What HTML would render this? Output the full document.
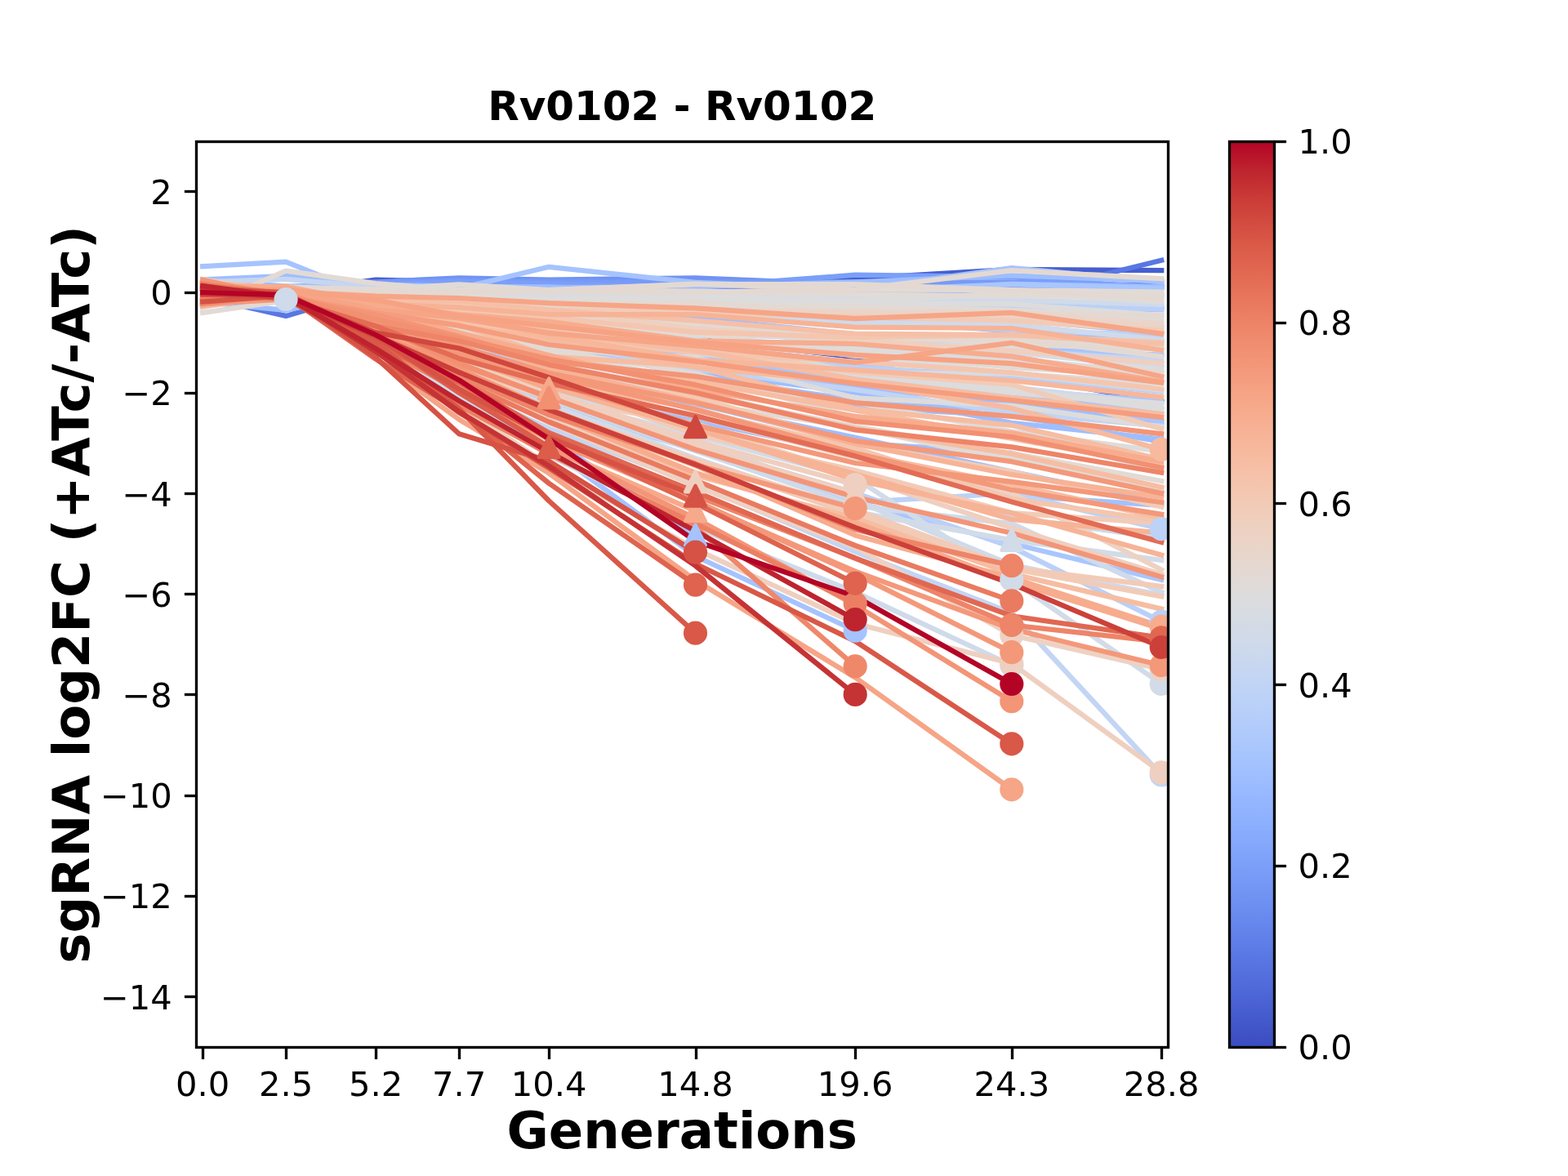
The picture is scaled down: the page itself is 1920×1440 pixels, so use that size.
<!DOCTYPE html>
<html lang="en">
<head>
<meta charset="utf-8">
<title>Rv0102 - Rv0102</title>
<style>
html,body{margin:0;padding:0;background:#fff;}
body{width:1920px;height:1440px;overflow:hidden;}
svg{display:block;}
text{font-family:"DejaVu Sans","Liberation Sans",sans-serif;fill:#000;}
.t{font-size:41.67px;}
.b{font-weight:bold;}
.ln path{fill:none;stroke-width:6.25;stroke-linejoin:round;stroke-linecap:square;}
.mk circle,.mk path{stroke-width:4.17;stroke-linejoin:round;}
.tk line{stroke:#000;stroke-width:3.33;}
</style>
</head>
<body>
<svg width="1920" height="1440" viewBox="0 0 1920 1440">
<rect x="0" y="0" width="1920" height="1440" fill="#fff"/>
<defs>
<linearGradient id="cw" x1="0" y1="1" x2="0" y2="0">
<stop offset="0.0000" stop-color="#3b4cc0"/><stop offset="0.0312" stop-color="#445acc"/><stop offset="0.0625" stop-color="#4e68d8"/><stop offset="0.0938" stop-color="#5875e1"/><stop offset="0.1250" stop-color="#6282ea"/><stop offset="0.1562" stop-color="#6c8ff1"/><stop offset="0.1875" stop-color="#779af7"/><stop offset="0.2188" stop-color="#82a6fb"/><stop offset="0.2500" stop-color="#8db0fe"/><stop offset="0.2812" stop-color="#98b9ff"/><stop offset="0.3125" stop-color="#a3c2fe"/><stop offset="0.3438" stop-color="#aec9fc"/><stop offset="0.3750" stop-color="#b9d0f9"/><stop offset="0.4062" stop-color="#c3d5f4"/><stop offset="0.4375" stop-color="#ccd9ed"/><stop offset="0.4688" stop-color="#d5dbe5"/><stop offset="0.5000" stop-color="#dddcdc"/><stop offset="0.5312" stop-color="#e5d8d1"/><stop offset="0.5625" stop-color="#ecd3c5"/><stop offset="0.5938" stop-color="#f1ccb8"/><stop offset="0.6250" stop-color="#f5c4ac"/><stop offset="0.6562" stop-color="#f7ba9f"/><stop offset="0.6875" stop-color="#f7b093"/><stop offset="0.7188" stop-color="#f6a586"/><stop offset="0.7500" stop-color="#f4987a"/><stop offset="0.7812" stop-color="#f08b6e"/><stop offset="0.8125" stop-color="#eb7d62"/><stop offset="0.8438" stop-color="#e46e56"/><stop offset="0.8750" stop-color="#dd5f4b"/><stop offset="0.9062" stop-color="#d44e41"/><stop offset="0.9375" stop-color="#ca3b37"/><stop offset="0.9688" stop-color="#be242e"/><stop offset="1.0000" stop-color="#b40426"/>
</linearGradient>
<clipPath id="axclip"><rect x="240.0" y="172.8" width="1190.4" height="1108.8"/></clipPath>
</defs>
<g clip-path="url(#axclip)">
<g class="ln">
<path d="M248.2 354.6L350.1 352.8L460.1 368.6L562.1 382.9L672.1 397.5L851.5 415.1L1047.2 437.2L1238.8 459.2L1422.2 491.9" stroke="#4055c8"/>
<path d="M248.2 357.6L350.1 357.6L460.1 342.5L562.1 345.3L672.1 345.3L851.5 348.4L1047.2 341.0L1238.8 329.9L1422.2 331.1" stroke="#465ecf"/>
<path d="M248.2 363.8L350.1 386.9L460.1 354.5L562.1 351.4L672.1 351.4L851.5 354.5L1047.2 351.4L1238.8 363.8L1422.2 318.8" stroke="#5977e3"/>
<path d="M248.2 354.5L350.1 351.4L460.1 345.3L562.1 340.4L672.1 342.5L851.5 340.4L1047.2 348.4L1238.8 351.4L1422.2 347.7" stroke="#7093f3"/>
<path d="M248.2 357.6L350.1 354.5L460.1 346.5L562.1 343.4L672.1 345.3L851.5 345.3L1047.2 345.3L1238.8 345.3L1422.2 351.4" stroke="#779af7"/>
<path d="M248.2 357.6L350.1 354.5L460.1 348.4L562.1 345.3L672.1 347.7L851.5 351.4L1047.2 336.7L1238.8 339.1L1422.2 352.7" stroke="#7b9ff9"/>
<path d="M248.2 368.8L350.1 364.5L460.1 363.4L562.1 366.1L672.1 355.0L851.5 362.8L1047.2 360.8L1238.8 360.7L1422.2 361.9" stroke="#8db0fe"/>
<path d="M248.2 342.5L350.1 337.9L460.1 349.0L562.1 351.4L672.1 351.4L851.5 357.6L1047.2 360.7L1238.8 347.7L1422.2 351.4" stroke="#9ebeff"/>
<path d="M248.2 369.9L350.1 379.8L460.1 357.6L562.1 360.7L672.1 363.8L851.5 369.9L1047.2 373.0L1238.8 374.8L1422.2 379.2" stroke="#9ebeff"/>
<path d="M248.2 369.7L350.1 355.0L460.1 383.5L562.1 404.0L672.1 420.3L851.5 460.8L1047.2 490.0L1238.8 502.4L1422.2 516.2" stroke="#9ebeff"/>
<path d="M248.2 363.8L350.1 350.9L460.1 383.2L562.1 398.7L672.1 419.1L851.5 455.4L1047.2 480.7L1238.8 517.8L1422.2 537.5" stroke="#9ebeff"/>
<path d="M248.2 353.3L350.1 350.2L460.1 385.6L562.1 420.1L672.1 446.1L851.5 493.7L1047.2 542.4L1238.8 554.7L1422.2 602.8" stroke="#9ebeff"/>
<path d="M248.2 371.8L350.1 360.6L460.1 393.4L562.1 424.7L672.1 455.0L851.5 494.6L1047.2 535.8L1238.8 577.5L1422.2 616.3" stroke="#9ebeff"/>
<path d="M248.2 356.7L350.1 364.6L460.1 367.9L562.1 370.2L672.1 385.1L851.5 381.6L1047.2 386.9L1238.8 387.7L1422.2 400.6" stroke="#9ebeff"/>
<path d="M248.2 342.3L350.1 350.7L460.1 357.8L562.1 360.6L672.1 369.4L851.5 378.4L1047.2 394.3L1238.8 391.4L1422.2 407.4" stroke="#9ebeff"/>
<path d="M248.2 346.2L350.1 351.2L460.1 358.9L562.1 359.7L672.1 376.5L851.5 390.0L1047.2 390.2L1238.8 405.6L1422.2 418.2" stroke="#9ebeff"/>
<path d="M248.2 374.5L350.1 359.3L460.1 372.6L562.1 375.2L672.1 387.4L851.5 389.7L1047.2 409.3L1238.8 426.0L1422.2 434.8" stroke="#9ebeff"/>
<path d="M248.2 364.9L350.1 355.9L460.1 377.7L562.1 395.1L672.1 416.2L851.5 441.7L1047.2 474.6L1238.8 493.2L1422.2 519.5" stroke="#9ebeff"/>
<path d="M248.2 374.4L350.1 363.7L460.1 389.4L562.1 396.8L672.1 423.6L851.5 456.2L1047.2 498.3L1238.8 509.0L1422.2 541.0" stroke="#9ebeff"/>
<path d="M248.2 357.8L350.1 350.6L460.1 348.5L562.1 350.6L672.1 352.1L851.5 351.4L1047.2 345.3L1238.8 337.3L1422.2 344.0" stroke="#9ebeff"/>
<path d="M248.2 347.6L350.1 363.1L460.1 396.9L562.1 430.3L672.1 466.9L851.5 515.1L1047.2 555.5L1238.8 606.5L1422.2 618.8" stroke="#a2c1ff"/>
<path d="M248.2 326.2L350.1 320.6L460.1 365.0L562.1 353.3L672.1 326.8L851.5 345.9L1047.2 354.5L1238.8 328.0L1422.2 345.3" stroke="#a5c3fe"/>
<path d="M248.2 362.8L350.1 358.3L460.1 419.0L562.1 483.8L672.1 536.2L851.5 655.1" stroke="#a5c3fe"/>
<path d="M248.2 347.6L350.1 359.7L460.1 417.4L562.1 483.3L672.1 548.6L851.5 681.0L1047.2 772.2" stroke="#a5c3fe"/>
<path d="M248.2 351.3L350.1 358.8L460.1 377.7L562.1 399.9L672.1 410.3L851.5 437.2L1047.2 463.6L1238.8 476.5L1422.2 501.1" stroke="#a9c6fd"/>
<path d="M248.2 353.3L350.1 363.8L460.1 384.3L562.1 399.1L672.1 415.4L851.5 434.6L1047.2 460.5L1238.8 482.6L1422.2 506.1" stroke="#a9c6fd"/>
<path d="M248.2 374.2L350.1 361.3L460.1 410.6L562.1 449.3L672.1 491.9L851.5 551.8L1047.2 615.1L1238.8 665.6L1422.2 710.0" stroke="#a9c6fd"/>
<path d="M248.2 358.3L350.1 357.2L460.1 358.2L562.1 359.1L672.1 356.2L851.5 357.7L1047.2 355.8L1238.8 348.1L1422.2 353.4" stroke="#a9c6fd"/>
<path d="M248.2 353.7L350.1 364.6L460.1 363.6L562.1 370.8L672.1 372.3L851.5 368.3L1047.2 377.0L1238.8 369.4L1422.2 376.7" stroke="#a9c6fd"/>
<path d="M248.2 355.4L350.1 350.8L460.1 359.6L562.1 368.7L672.1 391.5L851.5 393.9L1047.2 413.0L1238.8 428.7L1422.2 435.3" stroke="#a9c6fd"/>
<path d="M248.2 354.1L350.1 355.7L460.1 378.5L562.1 390.0L672.1 408.6L851.5 422.7L1047.2 444.0L1238.8 478.0L1422.2 490.3" stroke="#a9c6fd"/>
<path d="M248.2 344.8L350.1 359.4L460.1 385.0L562.1 397.2L672.1 411.7L851.5 429.6L1047.2 469.0L1238.8 481.1L1422.2 515.5" stroke="#a9c6fd"/>
<path d="M248.2 360.4L350.1 363.3L460.1 364.7L562.1 362.7L672.1 363.0L851.5 363.8L1047.2 369.9L1238.8 369.9L1422.2 376.1" stroke="#afcafc"/>
<path d="M248.2 345.3L350.1 364.7L460.1 381.6L562.1 386.0L672.1 391.3L851.5 408.9L1047.2 414.8L1238.8 431.5L1422.2 445.1" stroke="#afcafc"/>
<path d="M248.2 365.9L350.1 363.5L460.1 362.7L562.1 368.0L672.1 369.1L851.5 374.8L1047.2 375.0L1238.8 374.8L1422.2 378.5" stroke="#bad0f8"/>
<path d="M248.2 371.9L350.1 351.8L460.1 400.4L562.1 443.5L672.1 485.5L851.5 545.7L1047.2 603.8L1238.8 669.9L1422.2 761.1" stroke="#bad0f8"/>
<path d="M248.2 358.1L350.1 352.4L460.1 360.5L562.1 369.6L672.1 376.8L851.5 379.2L1047.2 393.8L1238.8 404.0L1422.2 410.5" stroke="#bad0f8"/>
<path d="M248.2 359.9L350.1 361.9L460.1 381.9L562.1 387.7L672.1 409.4L851.5 422.8L1047.2 450.1L1238.8 460.8L1422.2 479.9" stroke="#bad0f8"/>
<path d="M248.2 359.2L350.1 356.5L460.1 373.1L562.1 384.5L672.1 389.3L851.5 408.6L1047.2 412.7L1238.8 429.2L1422.2 450.2" stroke="#bad0f8"/>
<path d="M248.2 355.8L350.1 364.4L460.1 408.4L562.1 441.8L672.1 500.0L851.5 550.2L1047.2 615.1L1238.8 604.0L1422.2 647.7" stroke="#bcd2f7"/>
<path d="M248.2 356.9L350.1 360.5L460.1 384.8L562.1 399.5L672.1 420.1L851.5 451.8L1047.2 477.2L1238.8 505.4L1422.2 521.5" stroke="#c0d4f5"/>
<path d="M248.2 375.0L350.1 359.7L460.1 418.1L562.1 473.7L672.1 524.8L851.5 592.5L1047.2 675.6L1238.8 750.6L1422.2 949.0" stroke="#c3d5f4"/>
<path d="M248.2 345.3L350.1 341.9L460.1 351.4L562.1 357.6L672.1 360.7L851.5 360.7L1047.2 365.0L1238.8 367.5L1422.2 373.0" stroke="#c6d6f1"/>
<path d="M248.2 365.9L350.1 356.7L460.1 367.9L562.1 384.5L672.1 398.1L851.5 402.4L1047.2 420.6L1238.8 428.8L1422.2 441.3" stroke="#c6d6f1"/>
<path d="M248.2 354.5L350.1 366.5" stroke="#cfdaea"/>
<path d="M248.2 367.9L350.1 357.4L460.1 356.5L562.1 359.8L672.1 358.2L851.5 364.1L1047.2 368.6L1238.8 367.5L1422.2 372.4" stroke="#cfdaea"/>
<path d="M248.2 360.7L350.1 357.8L460.1 361.9L562.1 369.6L672.1 368.1L851.5 382.2L1047.2 394.6L1238.8 397.6L1422.2 416.1" stroke="#cfdaea"/>
<path d="M248.2 359.9L350.1 357.0L460.1 417.6L562.1 485.7L672.1 557.6L851.5 645.6L1047.2 725.2L1238.8 814.7" stroke="#cfdaea"/>
<path d="M248.2 363.1L350.1 351.5L460.1 375.0L562.1 384.0L672.1 398.1L851.5 423.1L1047.2 463.1L1238.8 474.0L1422.2 494.9" stroke="#cfdaea"/>
<path d="M248.2 370.0L350.1 364.3L460.1 402.0L562.1 436.7L672.1 477.4L851.5 523.5L1047.2 583.1L1238.8 633.5L1422.2 658.4" stroke="#cfdaea"/>
<path d="M248.2 369.4L350.1 364.6L460.1 405.2L562.1 443.7L672.1 488.9L851.5 551.8L1047.2 619.4L1238.8 641.2L1422.2 725.0" stroke="#cfdaea"/>
<path d="M248.2 350.6L350.1 363.0L460.1 401.5L562.1 447.6L672.1 488.3L851.5 538.3L1047.2 612.5L1238.8 691.8L1422.2 728.7" stroke="#cfdaea"/>
<path d="M248.2 364.1L350.1 363.3L460.1 411.1L562.1 459.6L672.1 495.5L851.5 561.1L1047.2 626.8L1238.8 661.3L1422.2 685.9" stroke="#d2dbe8"/>
<path d="M248.2 376.0L350.1 360.2L460.1 400.0L562.1 440.7L672.1 486.7L851.5 533.6L1047.2 585.5L1238.8 710.0L1422.2 837.5" stroke="#d2dbe8"/>
<path d="M248.2 363.0L350.1 356.6L460.1 373.6L562.1 387.3L672.1 401.6L851.5 419.2L1047.2 425.4L1238.8 431.5L1422.2 450.0" stroke="#d5dbe5"/>
<path d="M248.2 346.0L350.1 353.7L460.1 377.3L562.1 390.4L672.1 404.7L851.5 430.4L1047.2 459.7L1238.8 480.8L1422.2 496.2" stroke="#d7dce3"/>
<path d="M248.2 346.1L350.1 364.5L460.1 370.2L562.1 365.6L672.1 363.6L851.5 362.7L1047.2 363.7L1238.8 362.7L1422.2 359.4" stroke="#d7dce3"/>
<path d="M248.2 347.3L350.1 357.1L460.1 373.2L562.1 384.6L672.1 408.5L851.5 414.3L1047.2 456.5L1238.8 457.5L1422.2 477.7" stroke="#d7dce3"/>
<path d="M248.2 362.8L350.1 359.6L460.1 363.6L562.1 360.7L672.1 367.3L851.5 370.4L1047.2 371.8L1238.8 372.4L1422.2 386.2" stroke="#dddcdc"/>
<path d="M248.2 354.6L350.1 357.8L460.1 361.2L562.1 363.3L672.1 367.9L851.5 369.3L1047.2 375.0L1238.8 379.8L1422.2 393.9" stroke="#dddcdc"/>
<path d="M248.2 362.8L350.1 358.2L460.1 371.0L562.1 379.7L672.1 384.3L851.5 401.8L1047.2 419.2L1238.8 426.0L1422.2 454.9" stroke="#dddcdc"/>
<path d="M248.2 358.6L350.1 357.4L460.1 358.9L562.1 364.9L672.1 367.4L851.5 362.9L1047.2 369.7L1238.8 358.6L1422.2 369.7" stroke="#dddcdc"/>
<path d="M248.2 372.9L350.1 362.0L460.1 380.2L562.1 386.4L672.1 398.6L851.5 420.0L1047.2 434.8L1238.8 457.2L1422.2 469.9" stroke="#dddcdc"/>
<path d="M248.2 352.4L350.1 353.8L460.1 380.6L562.1 390.1L672.1 409.2L851.5 431.8L1047.2 455.1L1238.8 480.1L1422.2 493.9" stroke="#dddcdc"/>
<path d="M248.2 356.0L350.1 351.4L460.1 380.5L562.1 384.5L672.1 406.6L851.5 429.0L1047.2 455.7L1238.8 476.7L1422.2 501.0" stroke="#dddcdc"/>
<path d="M248.2 358.2L350.1 351.0L460.1 361.8L562.1 371.4L672.1 407.1L851.5 409.4L1047.2 431.2L1238.8 443.9L1422.2 463.1" stroke="#dddcdc"/>
<path d="M248.2 365.0L350.1 362.2L460.1 394.1L562.1 401.5L672.1 427.5L851.5 437.5L1047.2 487.3L1238.8 496.8L1422.2 522.9" stroke="#dddcdc"/>
<path d="M248.2 343.6L350.1 364.1L460.1 396.4L562.1 422.0L672.1 429.9L851.5 467.2L1047.2 492.6L1238.8 528.3L1422.2 552.7" stroke="#dddcdc"/>
<path d="M248.2 363.3L350.1 350.4L460.1 386.4L562.1 413.4L672.1 445.6L851.5 480.2L1047.2 524.8L1238.8 560.1L1422.2 603.4" stroke="#dddcdc"/>
<path d="M248.2 351.0L350.1 362.2L460.1 378.5L562.1 386.1L672.1 394.3L851.5 410.0L1047.2 411.8L1238.8 413.0L1422.2 425.4" stroke="#dddcdc"/>
<path d="M248.2 373.6L350.1 353.8L460.1 372.9L562.1 384.6L672.1 397.7L851.5 419.2L1047.2 428.4L1238.8 438.9L1422.2 457.4" stroke="#dddcdc"/>
<path d="M248.2 376.1L350.1 331.7L460.1 347.1L562.1 355.1L672.1 355.1L851.5 347.7L1047.2 354.5L1238.8 355.1L1422.2 357.6" stroke="#e2dad5"/>
<path d="M248.2 382.9L350.1 368.1L460.1 363.8L562.1 366.8L672.1 369.9L851.5 373.0L1047.2 376.1L1238.8 379.8L1422.2 388.4" stroke="#e2dad5"/>
<path d="M248.2 355.4L350.1 360.2L460.1 396.3L562.1 417.0L672.1 443.3L851.5 493.5L1047.2 523.3L1238.8 565.2L1422.2 599.1" stroke="#e2dad5"/>
<path d="M248.2 372.0L350.1 352.5L460.1 354.6L562.1 348.3L672.1 355.0L851.5 356.6L1047.2 360.5L1238.8 362.4L1422.2 363.0" stroke="#e2dad5"/>
<path d="M248.2 374.2L350.1 354.6L460.1 362.2L562.1 368.8L672.1 378.0L851.5 397.4L1047.2 410.8L1238.8 414.7L1422.2 419.9" stroke="#e2dad5"/>
<path d="M248.2 349.3L350.1 361.2L460.1 371.3L562.1 370.0L672.1 381.3L851.5 393.8L1047.2 409.8L1238.8 421.5L1422.2 427.7" stroke="#e2dad5"/>
<path d="M248.2 362.7L350.1 356.5L460.1 365.9L562.1 388.0L672.1 389.6L851.5 420.2L1047.2 431.7L1238.8 450.0L1422.2 461.2" stroke="#e2dad5"/>
<path d="M248.2 351.0L350.1 352.2L460.1 388.8L562.1 405.5L672.1 428.2L851.5 457.3L1047.2 511.2L1238.8 531.9L1422.2 575.1" stroke="#e2dad5"/>
<path d="M248.2 353.5L350.1 363.0L460.1 399.5L562.1 419.1L672.1 445.5L851.5 483.1L1047.2 522.4L1238.8 555.0L1422.2 589.0" stroke="#e2dad5"/>
<path d="M248.2 351.4L350.1 351.4L460.1 354.5L562.1 357.6L672.1 357.6L851.5 357.6L1047.2 354.5L1238.8 331.1L1422.2 341.3" stroke="#e4d9d2"/>
<path d="M248.2 357.6L350.1 354.5L460.1 357.6L562.1 357.6L672.1 355.1L851.5 348.1L1047.2 348.1L1238.8 355.1L1422.2 366.2" stroke="#e4d9d2"/>
<path d="M248.2 360.0L350.1 364.6L460.1 376.9L562.1 381.9L672.1 393.9L851.5 405.0L1047.2 416.1L1238.8 414.9L1422.2 436.4" stroke="#e4d9d2"/>
<path d="M248.2 368.0L350.1 361.0L460.1 362.6L562.1 369.2L672.1 374.7L851.5 369.8L1047.2 384.0L1238.8 384.8L1422.2 385.9" stroke="#e4d9d2"/>
<path d="M248.2 343.1L350.1 362.2L460.1 377.6L562.1 391.0L672.1 403.1L851.5 407.9L1047.2 436.0L1238.8 444.4L1422.2 454.9" stroke="#e4d9d2"/>
<path d="M248.2 354.2L350.1 357.4L460.1 361.9L562.1 376.4L672.1 372.6L851.5 382.2L1047.2 381.4L1238.8 382.1L1422.2 396.3" stroke="#e9d5cb"/>
<path d="M248.2 350.0L350.1 359.1L460.1 365.1L562.1 371.6L672.1 371.0L851.5 379.4L1047.2 383.1L1238.8 388.4L1422.2 400.1" stroke="#ebd3c6"/>
<path d="M248.2 364.3L350.1 363.7L460.1 402.9L562.1 431.5L672.1 471.6L851.5 509.6L1047.2 560.3L1238.8 604.0L1422.2 697.6" stroke="#edd2c3"/>
<path d="M248.2 363.1L350.1 353.0L460.1 409.9L562.1 460.5L672.1 517.7L851.5 595.4L1047.2 669.9L1238.8 777.7L1422.2 819.6" stroke="#edd2c3"/>
<path d="M248.2 342.2L350.1 358.5L460.1 422.0L562.1 495.5L672.1 570.4L851.5 672.4L1047.2 763.5L1238.8 812.5L1422.2 945.9" stroke="#efcfbf"/>
<path d="M248.2 359.1L350.1 356.1L460.1 411.2L562.1 459.8L672.1 509.6L851.5 589.8" stroke="#efcfbf"/>
<path d="M248.2 355.9L350.1 360.0L460.1 405.1L562.1 444.5L672.1 480.2L851.5 539.9L1047.2 593.5" stroke="#efcfbf"/>
<path d="M248.2 354.2L350.1 357.0L460.1 406.0L562.1 438.5L672.1 482.1L851.5 545.7L1047.2 604.0" stroke="#efcfbf"/>
<path d="M248.2 367.0L350.1 354.3L460.1 367.4L562.1 373.0L672.1 380.4L851.5 402.5L1047.2 416.2L1238.8 429.5L1422.2 444.9" stroke="#efcfbf"/>
<path d="M248.2 345.6L350.1 362.5L460.1 412.5L562.1 449.8L672.1 488.3L851.5 518.6L1047.2 583.0L1238.8 646.5L1422.2 703.3" stroke="#efcfbf"/>
<path d="M248.2 344.5L350.1 363.0L460.1 371.2L562.1 368.1L672.1 379.3L851.5 382.4L1047.2 388.2L1238.8 392.7L1422.2 405.0" stroke="#f2cbb7"/>
<path d="M248.2 360.7L350.1 358.5L460.1 372.9L562.1 391.3L672.1 405.6L851.5 426.3L1047.2 456.0L1238.8 470.9L1422.2 525.2" stroke="#f2cbb7"/>
<path d="M248.2 375.5L350.1 361.4L460.1 403.4L562.1 436.8L672.1 469.5L851.5 531.6L1047.2 576.0L1238.8 628.0L1422.2 641.0" stroke="#f2cbb7"/>
<path d="M248.2 358.2L350.1 351.9L460.1 407.7L562.1 446.7L672.1 501.9L851.5 563.3L1047.2 624.1L1238.8 695.2L1422.2 718.0" stroke="#f2cbb7"/>
<path d="M248.2 344.5L350.1 364.7L460.1 409.3L562.1 451.7L672.1 506.8L851.5 563.5L1047.2 630.7L1238.8 696.4L1422.2 730.3" stroke="#f2cbb7"/>
<path d="M248.2 368.4L350.1 362.2L460.1 392.7L562.1 425.2L672.1 460.6L851.5 486.5L1047.2 543.4L1238.8 577.6L1422.2 620.6" stroke="#f2cbb7"/>
<path d="M248.2 357.5L350.1 359.3L460.1 378.7L562.1 396.3L672.1 413.6L851.5 431.5L1047.2 442.8L1238.8 456.2L1422.2 476.5" stroke="#f4c6af"/>
<path d="M248.2 352.6L350.1 364.2L460.1 402.1L562.1 436.0L672.1 452.2L851.5 502.4L1047.2 548.6L1238.8 610.8L1422.2 637.9" stroke="#f4c6af"/>
<path d="M248.2 363.0L350.1 356.0L460.1 371.0L562.1 379.3L672.1 388.5L851.5 406.9L1047.2 413.0L1238.8 410.6L1422.2 419.2" stroke="#f4c6af"/>
<path d="M248.2 359.7L350.1 353.2L460.1 367.8L562.1 369.1L672.1 379.5L851.5 392.7L1047.2 408.7L1238.8 410.0L1422.2 421.0" stroke="#f5c0a7"/>
<path d="M248.2 370.7L350.1 361.0L460.1 386.7L562.1 412.5L672.1 437.2L851.5 467.0L1047.2 502.3L1238.8 537.0L1422.2 570.1" stroke="#f6bda2"/>
<path d="M248.2 369.1L350.1 358.8L460.1 412.1L562.1 454.4L672.1 505.3L851.5 581.9L1047.2 634.6L1238.8 702.6L1422.2 745.7" stroke="#f6bda2"/>
<path d="M248.2 348.6L350.1 355.3L460.1 377.4L562.1 391.1L672.1 406.7L851.5 429.5L1047.2 464.3L1238.8 487.0L1422.2 507.1" stroke="#f6bda2"/>
<path d="M248.2 361.8L350.1 354.0L460.1 388.0L562.1 397.5L672.1 436.5L851.5 448.4L1047.2 500.6L1238.8 520.8L1422.2 562.3" stroke="#f6bda2"/>
<path d="M248.2 346.9L350.1 352.1L460.1 396.7L562.1 410.1L672.1 445.8L851.5 482.1L1047.2 524.8L1238.8 555.7L1422.2 596.5" stroke="#f6bda2"/>
<path d="M248.2 374.3L350.1 354.3L460.1 386.0L562.1 427.1L672.1 465.9L851.5 500.5L1047.2 554.8L1238.8 593.3L1422.2 633.9" stroke="#f6bda2"/>
<path d="M248.2 364.0L350.1 353.2L460.1 378.0L562.1 399.3L672.1 415.3L851.5 449.6L1047.2 468.5L1238.8 499.9L1422.2 550.4" stroke="#f7ba9f"/>
<path d="M248.2 369.0L350.1 350.8L460.1 376.4L562.1 387.6L672.1 411.4L851.5 440.8L1047.2 453.2L1238.8 466.0L1422.2 486.3" stroke="#f7b79b"/>
<path d="M248.2 374.6L350.1 361.9L460.1 372.3L562.1 376.4L672.1 385.0L851.5 385.0L1047.2 400.7L1238.8 402.0L1422.2 428.7" stroke="#f7b396"/>
<path d="M248.2 354.5L350.1 351.1L460.1 388.8L562.1 415.4L672.1 450.9L851.5 491.7L1047.2 543.5L1238.8 581.2L1422.2 608.9" stroke="#f7b396"/>
<path d="M248.2 365.0L350.1 357.1L460.1 398.1L562.1 434.8L672.1 471.7L851.5 525.8L1047.2 580.6L1238.8 636.0L1422.2 652.7" stroke="#f7b396"/>
<path d="M248.2 362.5L350.1 364.1L460.1 407.4L562.1 437.9L672.1 473.8L851.5 524.7L1047.2 587.7L1238.8 628.3L1422.2 679.7" stroke="#f7b396"/>
<path d="M248.2 361.7L350.1 350.8L460.1 372.3L562.1 385.1L672.1 393.8L851.5 417.4L1047.2 421.0L1238.8 436.4L1422.2 467.2" stroke="#f7ac8e"/>
<path d="M248.2 353.2L350.1 351.4L460.1 378.9L562.1 407.6L672.1 435.0L851.5 476.5L1047.2 509.8L1238.8 530.1L1422.2 565.2" stroke="#f7ac8e"/>
<path d="M248.2 351.7L350.1 350.9L460.1 402.6L562.1 453.7L672.1 502.9L851.5 570.1L1047.2 655.4L1238.8 707.5L1422.2 767.2" stroke="#f7ac8e"/>
<path d="M248.2 373.0L350.1 359.9L460.1 407.7L562.1 457.3L672.1 506.7L851.5 578.9L1047.2 639.7L1238.8 711.8L1422.2 770.3" stroke="#f7ac8e"/>
<path d="M248.2 368.8L350.1 361.9L460.1 415.9L562.1 477.1L672.1 547.9L851.5 625.6" stroke="#f7a98b"/>
<path d="M248.2 373.1L350.1 353.7L460.1 401.2L562.1 434.7L672.1 475.9" stroke="#f7a98b"/>
<path d="M248.2 370.0L350.1 357.2L460.1 362.7L562.1 365.0L672.1 371.2L851.5 377.3L1047.2 390.2L1238.8 382.9L1422.2 408.7" stroke="#f6a586"/>
<path d="M248.2 352.3L350.1 356.1L460.1 379.0L562.1 389.3L672.1 407.9L851.5 423.5L1047.2 443.8L1238.8 419.8L1422.2 461.1" stroke="#f6a586"/>
<path d="M248.2 360.4L350.1 360.4L460.1 439.2L562.1 513.6L672.1 579.4L851.5 710.6L1047.2 829.5L1238.8 966.8" stroke="#f6a586"/>
<path d="M248.2 357.4L350.1 354.6L460.1 367.4L562.1 386.7L672.1 399.3L851.5 419.2L1047.2 434.6L1238.8 445.1L1422.2 468.5" stroke="#f6a283"/>
<path d="M248.2 367.5L350.1 363.3L460.1 383.2L562.1 398.7L672.1 422.0L851.5 442.7L1047.2 469.7L1238.8 490.0L1422.2 511.0" stroke="#f59d7e"/>
<path d="M248.2 372.1L350.1 366.4L460.1 403.7L562.1 424.6L672.1 456.7L851.5 493.1L1047.2 539.9L1238.8 565.2L1422.2 604.0" stroke="#f4987a"/>
<path d="M248.2 364.1L350.1 359.9L460.1 401.3L562.1 433.3L672.1 467.7L851.5 520.5L1047.2 567.0L1238.8 589.8L1422.2 615.1" stroke="#f4987a"/>
<path d="M248.2 357.2L350.1 359.1L460.1 396.2L562.1 423.4L672.1 459.8L851.5 501.4L1047.2 555.1L1238.8 599.7L1422.2 629.9" stroke="#f4987a"/>
<path d="M248.2 368.7L350.1 360.6L460.1 420.6L562.1 470.8L672.1 537.1L851.5 613.4L1047.2 702.6L1238.8 798.7" stroke="#f4987a"/>
<path d="M248.2 361.0L350.1 366.0L460.1 419.1L562.1 479.1L672.1 538.3L851.5 614.5L1047.2 699.6L1238.8 770.3L1422.2 814.7" stroke="#f4987a"/>
<path d="M248.2 344.8L350.1 361.0L460.1 407.3L562.1 452.0L672.1 500.8L851.5 568.9L1047.2 622.5" stroke="#f4987a"/>
<path d="M248.2 364.1L350.1 364.6L460.1 385.4L562.1 412.1L672.1 442.7L851.5 460.8L1047.2 493.1L1238.8 509.8L1422.2 531.3" stroke="#f39577"/>
<path d="M248.2 342.8L350.1 365.0L460.1 413.0L562.1 446.3L672.1 486.3L851.5 550.5L1047.2 608.7L1238.8 652.7L1422.2 706.3" stroke="#f39577"/>
<path d="M248.2 352.1L350.1 357.8L460.1 418.2L562.1 478.3L672.1 547.4L851.5 634.8L1047.2 740.8L1238.8 858.7" stroke="#f39577"/>
<path d="M248.2 348.7L350.1 362.6L460.1 391.1L562.1 414.2L672.1 439.5L851.5 471.2L1047.2 515.9L1238.8 535.0L1422.2 572.6" stroke="#f29072"/>
<path d="M248.2 364.8L350.1 362.6L460.1 398.6L562.1 444.6L672.1 487.0" stroke="#f29072"/>
<path d="M248.2 371.6L350.1 360.1L460.1 425.0L562.1 496.8L672.1 555.1L851.5 645.3L1047.2 815.9" stroke="#ef886b"/>
<path d="M248.2 363.4L350.1 366.1L460.1 399.2L562.1 417.5L672.1 446.6L851.5 480.8L1047.2 526.4L1238.8 547.3L1422.2 578.7" stroke="#ee8468"/>
<path d="M248.2 366.0L350.1 362.5L460.1 413.1L562.1 459.9L672.1 507.8L851.5 567.8L1047.2 648.4L1238.8 692.7" stroke="#ee8468"/>
<path d="M248.2 347.6L350.1 365.1L460.1 422.8L562.1 477.4L672.1 534.6L851.5 606.8L1047.2 683.4L1238.8 765.4L1422.2 785.7" stroke="#ee8468"/>
<path d="M248.2 367.7L350.1 363.1L460.1 422.5L562.1 494.6L672.1 556.1L851.5 641.0L1047.2 738.9" stroke="#ec7f63"/>
<path d="M248.2 348.7L350.1 359.5L460.1 410.8L562.1 466.0L672.1 516.5L851.5 588.2L1047.2 668.0L1238.8 735.8" stroke="#ea7b60"/>
<path d="M248.2 352.9L350.1 365.8L460.1 399.4L562.1 438.9L672.1 469.3L851.5 509.1L1047.2 558.4L1238.8 614.5L1422.2 663.8" stroke="#e36c55"/>
<path d="M248.2 360.2L350.1 359.3L460.1 417.8L562.1 466.7L672.1 530.0L851.5 602.2L1047.2 683.5L1238.8 754.3L1422.2 780.8" stroke="#e16751"/>
<path d="M248.2 360.0L350.1 361.9L460.1 439.7L562.1 502.7L672.1 591.7L851.5 716.1" stroke="#df634e"/>
<path d="M248.2 359.4L350.1 365.2L460.1 422.0L562.1 468.1L672.1 532.9L851.5 616.3L1047.2 714.3" stroke="#df634e"/>
<path d="M248.2 351.3L350.1 364.5L460.1 411.9L562.1 480.8L672.1 547.3" stroke="#dc5d4a"/>
<path d="M248.2 355.3L350.1 360.9L460.1 419.2L562.1 500.5L672.1 613.2L851.5 775.2" stroke="#d95847"/>
<path d="M248.2 353.0L350.1 365.0L460.1 429.8L562.1 505.2L672.1 573.2L851.5 690.2L1047.2 785.1L1238.8 910.8" stroke="#d95847"/>
<path d="M248.2 353.1L350.1 358.4L460.1 437.7L562.1 531.3L672.1 564.6L851.5 676.1" stroke="#d65244"/>
<path d="M248.2 369.5L350.1 362.0L460.1 412.7L562.1 476.4L672.1 535.9L851.5 607.1" stroke="#d65244"/>
<path d="M248.2 360.6L350.1 363.1L460.1 407.3L562.1 426.5L672.1 462.3L851.5 522.7" stroke="#d0473d"/>
<path d="M248.2 354.0L350.1 365.8L460.1 410.8L562.1 455.9L672.1 501.7L851.5 568.9L1047.2 645.9L1238.8 714.9L1422.2 792.5" stroke="#cc403a"/>
<path d="M248.2 356.4L350.1 360.9L460.1 430.5L562.1 504.1L672.1 570.7L851.5 692.7L1047.2 850.4" stroke="#c53334"/>
<path d="M248.2 350.2L350.1 363.5L460.1 426.9L562.1 490.9L672.1 553.6L851.5 650.2L1047.2 758.6" stroke="#be242e"/>
<path d="M248.2 358.2L350.1 361.3L460.1 410.0L562.1 465.4L672.1 537.5L851.5 662.5L1047.2 730.3L1238.8 837.5" stroke="#b40426"/>
</g>
<g class="mk">
<path d="M851.5 642.6L839.0 667.6L864.0 667.6Z" fill="#a5c3fe" stroke="#a5c3fe"/>
<circle cx="1047.2" cy="772.2" r="12.5" fill="#a5c3fe" stroke="#a5c3fe"/>
<circle cx="1422.2" cy="761.1" r="12.5" fill="#bad0f8" stroke="#bad0f8"/>
<circle cx="1422.2" cy="647.7" r="12.5" fill="#bcd2f7" stroke="#bcd2f7"/>
<circle cx="1422.2" cy="949.0" r="12.5" fill="#c3d5f4" stroke="#c3d5f4"/>
<circle cx="350.1" cy="366.5" r="12.5" fill="#cfdaea" stroke="#cfdaea"/>
<circle cx="1238.8" cy="814.7" r="12.5" fill="#cfdaea" stroke="#cfdaea"/>
<path d="M1238.8 648.8L1226.3 673.8L1251.3 673.8Z" fill="#d2dbe8" stroke="#d2dbe8"/>
<circle cx="1238.8" cy="710.0" r="12.5" fill="#d2dbe8" stroke="#d2dbe8"/>
<circle cx="1422.2" cy="837.5" r="12.5" fill="#d2dbe8" stroke="#d2dbe8"/>
<circle cx="1238.8" cy="777.7" r="12.5" fill="#edd2c3" stroke="#edd2c3"/>
<circle cx="1422.2" cy="819.6" r="12.5" fill="#edd2c3" stroke="#edd2c3"/>
<circle cx="1238.8" cy="812.5" r="12.5" fill="#efcfbf" stroke="#efcfbf"/>
<circle cx="1422.2" cy="945.9" r="12.5" fill="#efcfbf" stroke="#efcfbf"/>
<path d="M851.5 577.3L839.0 602.3L864.0 602.3Z" fill="#efcfbf" stroke="#efcfbf"/>
<circle cx="1047.2" cy="593.5" r="12.5" fill="#efcfbf" stroke="#efcfbf"/>
<path d="M1047.2 591.5L1034.7 616.5L1059.7 616.5Z" fill="#efcfbf" stroke="#efcfbf"/>
<circle cx="1422.2" cy="550.4" r="12.5" fill="#f7ba9f" stroke="#f7ba9f"/>
<circle cx="1422.2" cy="767.2" r="12.5" fill="#f7ac8e" stroke="#f7ac8e"/>
<path d="M851.5 613.1L839.0 638.1L864.0 638.1Z" fill="#f7a98b" stroke="#f7a98b"/>
<path d="M672.1 463.4L659.6 488.4L684.6 488.4Z" fill="#f7a98b" stroke="#f7a98b"/>
<circle cx="1238.8" cy="966.8" r="12.5" fill="#f6a586" stroke="#f6a586"/>
<circle cx="1238.8" cy="798.7" r="12.5" fill="#f4987a" stroke="#f4987a"/>
<circle cx="1422.2" cy="814.7" r="12.5" fill="#f4987a" stroke="#f4987a"/>
<circle cx="1047.2" cy="622.5" r="12.5" fill="#f4987a" stroke="#f4987a"/>
<circle cx="1238.8" cy="858.7" r="12.5" fill="#f39577" stroke="#f39577"/>
<path d="M672.1 474.5L659.6 499.5L684.6 499.5Z" fill="#f29072" stroke="#f29072"/>
<circle cx="1047.2" cy="815.9" r="12.5" fill="#ef886b" stroke="#ef886b"/>
<circle cx="1238.8" cy="692.7" r="12.5" fill="#ee8468" stroke="#ee8468"/>
<circle cx="1238.8" cy="765.4" r="12.5" fill="#ee8468" stroke="#ee8468"/>
<circle cx="1047.2" cy="738.9" r="12.5" fill="#ec7f63" stroke="#ec7f63"/>
<circle cx="1238.8" cy="735.8" r="12.5" fill="#ea7b60" stroke="#ea7b60"/>
<circle cx="1422.2" cy="780.8" r="12.5" fill="#e16751" stroke="#e16751"/>
<circle cx="851.5" cy="716.1" r="12.5" fill="#df634e" stroke="#df634e"/>
<circle cx="1047.2" cy="714.3" r="12.5" fill="#df634e" stroke="#df634e"/>
<path d="M672.1 534.8L659.6 559.8L684.6 559.8Z" fill="#dc5d4a" stroke="#dc5d4a"/>
<circle cx="851.5" cy="775.2" r="12.5" fill="#d95847" stroke="#d95847"/>
<circle cx="1238.8" cy="910.8" r="12.5" fill="#d95847" stroke="#d95847"/>
<circle cx="851.5" cy="676.1" r="12.5" fill="#d65244" stroke="#d65244"/>
<path d="M851.5 594.6L839.0 619.6L864.0 619.6Z" fill="#d65244" stroke="#d65244"/>
<path d="M851.5 510.2L839.0 535.2L864.0 535.2Z" fill="#d0473d" stroke="#d0473d"/>
<circle cx="1422.2" cy="792.5" r="12.5" fill="#cc403a" stroke="#cc403a"/>
<circle cx="1047.2" cy="850.4" r="12.5" fill="#c53334" stroke="#c53334"/>
<circle cx="1047.2" cy="758.6" r="12.5" fill="#be242e" stroke="#be242e"/>
<circle cx="1238.8" cy="837.5" r="12.5" fill="#b40426" stroke="#b40426"/>
</g>
</g>
<rect x="240.5" y="173.5" width="1190" height="1109" fill="none" stroke="#000" stroke-width="3.33"/>
<g class="tk">
<line x1="248.50" y1="1282.5" x2="248.50" y2="1297.1"/><line x1="350.50" y1="1282.5" x2="350.50" y2="1297.1"/><line x1="460.50" y1="1282.5" x2="460.50" y2="1297.1"/><line x1="562.50" y1="1282.5" x2="562.50" y2="1297.1"/><line x1="672.50" y1="1282.5" x2="672.50" y2="1297.1"/><line x1="852.50" y1="1282.5" x2="852.50" y2="1297.1"/><line x1="1047.50" y1="1282.5" x2="1047.50" y2="1297.1"/><line x1="1239.50" y1="1282.5" x2="1239.50" y2="1297.1"/><line x1="1422.50" y1="1282.5" x2="1422.50" y2="1297.1"/><line x1="225.9" y1="1220.50" x2="240.5" y2="1220.50"/><line x1="225.9" y1="1097.50" x2="240.5" y2="1097.50"/><line x1="225.9" y1="974.50" x2="240.5" y2="974.50"/><line x1="225.9" y1="850.50" x2="240.5" y2="850.50"/><line x1="225.9" y1="727.50" x2="240.5" y2="727.50"/><line x1="225.9" y1="604.50" x2="240.5" y2="604.50"/><line x1="225.9" y1="481.50" x2="240.5" y2="481.50"/><line x1="225.9" y1="358.50" x2="240.5" y2="358.50"/><line x1="225.9" y1="234.50" x2="240.5" y2="234.50"/><line x1="1560.5" y1="1282.50" x2="1575.1" y2="1282.50"/><line x1="1560.5" y1="1060.50" x2="1575.1" y2="1060.50"/><line x1="1560.5" y1="838.50" x2="1575.1" y2="838.50"/><line x1="1560.5" y1="616.50" x2="1575.1" y2="616.50"/><line x1="1560.5" y1="395.50" x2="1575.1" y2="395.50"/><line x1="1560.5" y1="173.50" x2="1575.1" y2="173.50"/>
</g>
<g class="t">
<text x="248.15" y="1342.0" text-anchor="middle">0.0</text><text x="350.07" y="1342.0" text-anchor="middle">2.5</text><text x="460.14" y="1342.0" text-anchor="middle">5.2</text><text x="562.06" y="1342.0" text-anchor="middle">7.7</text><text x="672.13" y="1342.0" text-anchor="middle">10.4</text><text x="851.51" y="1342.0" text-anchor="middle">14.8</text><text x="1047.19" y="1342.0" text-anchor="middle">19.6</text><text x="1238.79" y="1342.0" text-anchor="middle">24.3</text><text x="1422.25" y="1342.0" text-anchor="middle">28.8</text><text x="210.8" y="1235.50" text-anchor="end">−14</text><text x="210.8" y="1112.30" text-anchor="end">−12</text><text x="210.8" y="989.10" text-anchor="end">−10</text><text x="210.8" y="865.90" text-anchor="end">−8</text><text x="210.8" y="742.70" text-anchor="end">−6</text><text x="210.8" y="619.50" text-anchor="end">−4</text><text x="210.8" y="496.30" text-anchor="end">−2</text><text x="210.8" y="373.10" text-anchor="end">0</text><text x="210.8" y="249.90" text-anchor="end">2</text><text x="1589.4" y="1297.10">0.0</text><text x="1589.4" y="1075.34">0.2</text><text x="1589.4" y="853.58">0.4</text><text x="1589.4" y="631.82">0.6</text><text x="1589.4" y="410.06">0.8</text><text x="1589.4" y="188.30">1.0</text>
</g>
<rect x="1505.5" y="173.5" width="55" height="1109" fill="url(#cw)" stroke="#000" stroke-width="3.33"/>
<text class="b" x="835.2" y="146.6" text-anchor="middle" font-size="50">Rv0102 - Rv0102</text>
<text class="b" x="835.2" y="1405.6" text-anchor="middle" font-size="62.5">Generations</text>
<text class="b" transform="translate(108.6 728.0) rotate(-90)" text-anchor="middle" font-size="62.5">sgRNA log2FC (+ATc/-ATc)</text>
</svg>
</body>
</html>
